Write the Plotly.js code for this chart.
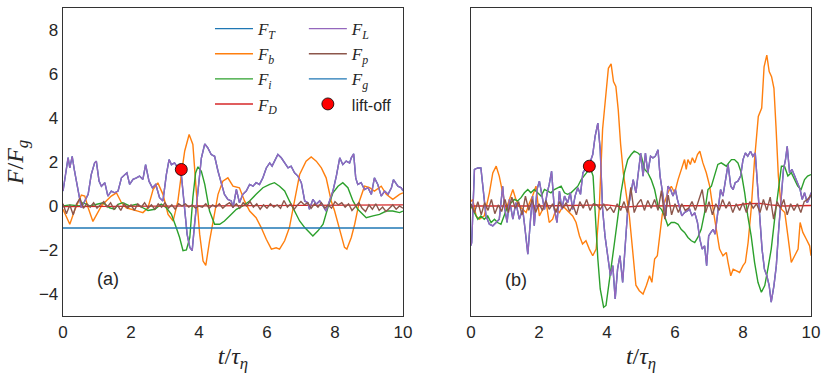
<!DOCTYPE html>
<html>
<head>
<meta charset="utf-8">
<script src="https://cdn.plot.ly/plotly-3.0.1.min.js"></script>
<style>
body{margin:0;background:#fff}
#chart{width:830px;height:377px}
</style>
</head>
<body>
<div id="chart"></div>
<script>

/* ---- panel (a) ---- */

const fbA_t = [0,0.1,0.2,0.34,0.54,0.64,0.74,0.88,0.98,1.13,
1.27,1.42,1.57,1.72,1.86,2.06,2.2,2.35,2.5,2.65,
2.79,2.94,3.09,3.24,3.38,3.48,3.58,3.71,3.82,3.92,
4.02,4.12,4.2,4.31,4.46,4.56,4.7,4.85,5.0,5.19,
5.34,5.49,5.68,5.83,5.98,6.13,6.27,6.37,6.52,6.66,
6.81,6.96,7.15,7.3,7.45,7.6,7.74,7.89,7.99,8.14,
8.28,8.35,8.48,8.58,8.72,8.87,9.02,9.16,9.36,9.51,
9.7,9.9,10]
const fbA = [-0.15,-0.5,-0.83,-0.2,0.5,0.45,-0.08,-0.7,-0.4,0,
0.23,0.45,0.6,0.15,-0.08,-0.15,-0.23,-0.3,-0.08,0.75,
1.05,0.53,-0.38,-0.68,0.23,1.43,2.5,3.25,2.8,0.68,
-1.28,-2.5,-2.7,-1.6,-0.38,0.53,1.13,1.28,0.9,0.83,
0.23,-0.23,-0.53,-0.98,-1.51,-1.96,-1.9,-1.96,-1.58,-0.98,
0.23,1.43,2.04,2.23,2.04,1.73,1.28,0.23,-0.23,-1.13,
-1.88,-1.96,-1.43,-0.83,0.23,0.9,0.83,0.68,0.9,0.53,
0.3,0.53,0.6]

const fiA_t = [0,0.2,0.49,0.59,0.78,0.98,1.18,1.37,1.52,1.62,
1.76,1.96,2.16,2.35,2.5,2.7,2.89,3.04,3.19,3.33,
3.43,3.53,3.63,3.73,3.82,3.9,3.97,4.07,4.17,4.31,
4.46,4.61,4.75,4.9,5.1,5.29,5.49,5.68,5.88,6.08,
6.22,6.37,6.52,6.66,6.81,6.96,7.11,7.25,7.35,7.5,
7.65,7.79,7.94,8.09,8.23,8.38,8.53,8.67,8.82,8.92,
9.12,9.31,9.51,9.7,9.9,10]
const fiA = [0,0.05,0,0.15,0,0.08,0.15,-0.08,-0.15,0.08,
0.15,0,0.08,-0.08,-0.2,-0.15,0.08,-0.08,-0.38,-0.98,
-1.43,-2.03,-2.0,-1.43,0.38,1.5,1.78,1.58,0.98,-0.23,
-0.83,-0.83,-0.68,-0.45,-0.15,0,0.23,0.53,0.83,0.98,
1.06,0.9,0.68,0.23,-0.23,-0.68,-0.98,-1.21,-1.36,-1.13,
-0.83,-0.08,0.6,0.9,1.06,0.83,0.23,-0.15,-0.38,-0.53,
-0.45,-0.38,-0.23,-0.23,-0.3,-0.23]

const fLA_t = [0,0.08,0.15,0.2,0.27,0.34,0.44,0.54,0.64,0.74,
0.83,0.93,0.98,1.06,1.13,1.23,1.32,1.42,1.52,1.62,
1.72,1.81,1.88,1.96,2.06,2.16,2.25,2.35,2.43,2.53,
2.63,2.73,2.84,2.94,3.04,3.12,3.19,3.28,3.38,3.48,
3.56,3.65,3.73,3.8,3.87,3.97,4.07,4.17,4.26,4.36,
4.46,4.56,4.66,4.75,4.85,4.95,5.0,5.1,5.19,5.29,
5.39,5.49,5.59,5.68,5.78,5.88,5.98,6.08,6.15,6.22,
6.32,6.42,6.52,6.62,6.71,6.81,6.91,7.01,7.11,7.2,
7.25,7.35,7.45,7.55,7.65,7.74,7.84,7.94,8.04,8.14,
8.23,8.33,8.43,8.48,8.55,8.61,8.67,8.77,8.87,8.97,
9.07,9.16,9.26,9.36,9.46,9.56,9.66,9.72,9.85,9.95,
10]
const fLA = [0.68,1.43,2.2,1.73,2.26,1.58,0.83,-0.08,0.23,0.53,
1.43,1.96,2.04,1.13,0.9,1.06,0.45,0.68,0.6,0.68,
1.28,1.43,1.51,0.98,1.21,1.28,1.36,1.21,1.88,1.13,
0.83,0.98,0.38,0.23,1.43,2.11,1.88,1.96,1.73,1.43,
0.08,-1.28,-1.88,-2.03,-0.83,0.68,2.18,2.82,2.64,2.34,
2.26,1.58,0.98,0.53,0.3,0.23,-0.08,0.75,0.15,0.53,
0.68,0.98,0.9,1.06,0.98,1.28,1.73,1.96,1.81,2.04,
2.34,2.19,1.96,1.73,1.81,1.51,1.36,1.06,0.23,0.15,
-0.15,0.3,0.08,0.23,0,-0.23,0.23,0.68,1.36,2.19,
1.88,2.04,1.96,2.19,2.37,1.28,0.98,1.06,0.75,0.83,
0.53,1.28,0.98,0.45,0.68,0.53,0.83,1.2,0.9,0.83,
0.68]

// F_T sits right under F_L in the picture
const fTA = fLA.slice()

const fdA_t = [0,2,4,6,8,10]
const fdA = [-0.03,-0.02,0,0.02,0.04,0.05]

const fgA_t = [0,10]
const fgA = [-1,-1]

// F_p on a 0.1 grid
const fpA = [0.1,-0.35,0.05,-0.4,0.1,0.35,-0.1,0.1,-0.05,0.15,
-0.1,0.05,0.2,-0.05,0.15,-0.15,0.05,-0.2,0.1,-0.1,
0.05,-0.2,0.1,-0.05,0.15,-0.1,0.05,-0.15,0.1,-0.05,
0.15,-0.1,0.05,-0.15,0.1,0,0.1,-0.05,0.05,-0.1,
0,-0.05,0.1,-0.1,0.05,-0.05,0.1,-0.1,0.05,0.15,
-0.05,0.1,-0.1,0.15,0,0.2,-0.05,0.1,-0.15,0.05,
-0.1,0.1,-0.05,0.05,-0.1,0.25,-0.05,0.1,-0.15,0.05,
0.2,0.05,0.15,-0.1,0.1,-0.05,0.15,-0.1,0.05,-0.1,
0.2,0.05,0.15,-0.05,0.1,-0.2,0,0.15,-0.1,-0.25,
0.05,-0.15,0.1,-0.2,-0.05,-0.25,-0.1,0.05,-0.15,0,
-0.1]

/* ---- panel (b) ---- */

const fbB_t = [0,0.05,0.15,0.25,0.39,0.54,0.64,0.74,0.83,0.93,
1.03,1.13,1.23,1.32,1.42,1.52,1.62,1.72,1.81,1.91,
2.01,2.11,2.21,2.3,2.4,2.5,2.6,2.7,2.79,2.89,
2.99,3.09,3.19,3.28,3.38,3.48,3.58,3.68,3.77,3.87,
3.99,4.04,4.12,4.19,4.26,4.33,4.4,4.48,4.56,4.66,
4.75,4.85,4.95,5.06,5.16,5.25,5.32,5.4,5.48,5.55,
5.62,5.69,5.79,5.89,5.99,6.09,6.18,6.28,6.33,6.38,
6.45,6.51,6.58,6.66,6.73,6.82,6.92,7.02,7.12,7.21,
7.31,7.41,7.51,7.56,7.64,7.71,7.8,7.9,8.0,8.07,
8.15,8.24,8.34,8.41,8.45,8.55,8.62,8.7,8.77,8.84,
8.91,8.97,9.04,9.13,9.23,9.32,9.42,9.52,9.62,9.68,
9.76,9.86,9.96,10]
const fbB = [0.2,0.3,-0.45,-0.6,-0.45,0.6,1.5,1.81,1.36,0.6,
-0.15,0.3,0.75,0.3,0,-0.15,-0.3,0.15,0.45,0.9,
-0.45,-0.15,0.15,-0.75,-0.6,-0.15,-0.3,0,-0.15,-0.3,
-0.45,-0.75,-1.36,-1.73,-1.58,-1.96,-2.26,-1.96,-0.15,3.5,
5.73,6.26,6.46,5.66,5.43,4.37,2.8,1.5,0.6,-0.5,
-1.96,-3.6,-3.85,-4.0,-3.6,-3.17,-3.47,-2.41,-2.26,-1.36,
-0.45,0.15,0.6,0.9,0.6,1.2,1.66,2.11,1.66,2.11,
1.89,2.19,1.96,2.34,2.49,1.96,1.51,0.9,-0.15,-1.06,
-1.96,-2.26,-2.11,-2.56,-3.17,-2.87,-2.94,-3.02,-2.71,-2.56,
-1.66,-0.15,2.11,3.47,4.07,4.45,6.33,6.86,6.11,5.88,
5.35,3.62,1.36,-0.15,-0.3,-1.36,-2.56,-2.26,-1.96,-0.75,
-1.2,-1.5,-1.81,-2.26]

const fiB_t = [0,0.1,0.2,0.29,0.39,0.49,0.59,0.69,0.78,0.88,
0.98,1.08,1.18,1.27,1.37,1.47,1.57,1.67,1.76,1.86,
1.96,2.06,2.16,2.25,2.35,2.45,2.55,2.65,2.75,2.84,
2.94,3.04,3.14,3.24,3.33,3.43,3.51,3.59,3.65,3.73,
3.8,3.9,3.97,4.04,4.12,4.22,4.31,4.41,4.51,4.61,
4.71,4.8,4.91,5.01,5.11,5.2,5.3,5.4,5.5,5.6,
5.69,5.79,5.89,5.99,6.09,6.18,6.28,6.38,6.48,6.58,
6.67,6.77,6.87,6.97,7.07,7.16,7.26,7.36,7.44,7.51,
7.58,7.66,7.75,7.85,7.95,8.05,8.14,8.24,8.34,8.44,
8.54,8.64,8.73,8.83,8.93,9.03,9.13,9.22,9.32,9.42,
9.52,9.61,9.71,9.81,9.9,10]
const fiB = [0,-0.3,-0.6,-0.45,-0.6,-0.45,-0.75,-0.6,-0.75,-0.83,
-0.45,0,0.15,0.3,0.23,0.38,0.6,0.75,0.6,0.75,
0.6,0.45,0.75,0.68,0.6,0.75,0.83,0.9,0.6,0.53,
0.6,0.75,0.9,1.2,1.36,1.58,1.73,1.36,-0.3,-2.41,
-3.77,-4.6,-4.52,-3.77,-2.71,-1.66,-0.6,0.6,1.51,2.11,
2.34,2.49,2.41,2.26,1.66,1.51,1.2,0.75,0,-0.15,
-0.45,-0.9,-0.75,-0.75,-0.83,-1.06,-1.2,-1.43,-1.58,-1.66,
-1.43,-1.06,-0.3,0.75,0.9,1.36,1.89,1.96,1.89,1.81,
1.96,2.11,2.11,1.96,1.51,0.6,-0.45,-1.36,-2.56,-3.47,
-3.92,-3.62,-2.87,-1.96,-0.6,0.75,1.81,1.81,1.36,1.51,
1.2,0.9,0.75,1.2,1.36,1.43]

const fLB_t = [0,0.02,0.1,0.2,0.29,0.37,0.44,0.54,0.64,0.74,
0.83,0.93,0.98,1.06,1.13,1.23,1.32,1.42,1.52,1.59,
1.67,1.75,1.81,1.86,1.94,2.01,2.08,2.16,2.24,2.3,
2.37,2.45,2.53,2.6,2.67,2.75,2.84,2.92,2.99,3.06,
3.14,3.22,3.29,3.38,3.48,3.58,3.65,3.73,3.8,3.87,
3.94,4.02,4.1,4.17,4.24,4.31,4.38,4.46,4.53,4.61,
4.69,4.77,4.85,4.91,4.99,5.06,5.13,5.2,5.28,5.35,
5.42,5.5,5.56,5.62,5.67,5.73,5.79,5.87,5.94,6.01,
6.07,6.13,6.2,6.28,6.36,6.43,6.5,6.58,6.66,6.73,
6.8,6.87,6.93,6.99,7.05,7.12,7.18,7.26,7.34,7.41,
7.48,7.56,7.64,7.71,7.77,7.85,7.93,8.0,8.07,8.14,
8.22,8.29,8.36,8.42,8.49,8.56,8.63,8.7,8.77,8.83,
8.91,8.98,9.05,9.13,9.19,9.25,9.3,9.37,9.44,9.52,
9.6,9.68,9.74,9.81,9.89,9.96,10]
const fLB = [-1.8,-1.66,1.66,1.73,1.73,0.45,-0.45,-0.83,-0.9,-0.75,
-0.6,0.9,0,-0.75,0.3,-0.6,0.15,-0.6,-0.15,-1.06,
-2.19,-0.6,0.45,-0.9,0.75,1.13,0.45,-0.15,0.6,0.98,
1.58,-0.15,-0.75,0.68,-0.15,0.45,0.15,0.6,-0.15,0.45,
0.83,0.53,1.51,1.73,1.89,2.34,3.17,3.77,2.56,-0.15,
-1.36,-2.26,-3.17,-2.71,-4.22,-2.87,-2.26,-3.47,-1.66,-0.15,
0.45,1.2,0.6,1.51,2.41,1.36,2.41,1.51,2.26,2.19,
2.26,2.56,1.36,0.75,0.15,-0.45,0.9,0.75,0.45,0.75,
0.3,0,-0.45,-0.3,-0.23,-0.15,-0.45,-0.3,-0.75,-1.51,
-1.96,-1.81,-2.71,-1.36,-1.21,-1.06,-1.28,-0.3,0.75,0.45,
1.2,1.89,0.9,0.75,1.06,1.13,1.36,2.11,2.41,2.26,
2.49,2.26,2.41,1.21,-0.15,-1.96,-2.87,-3.17,-3.62,-4.37,
-3.62,-2.71,-1.06,0.6,1.66,2.11,2.71,1.51,1.66,1.36,
1.06,0.75,0.3,0.6,0.15,0.38,0.6]

const fTB = fLB.slice()

const fdB_t = [0,2,4,4.5,5,6,7,7.8,8.1,8.5,8.8,9.2,10]
const fdB = [0,0,0.05,-0.05,0,0,0,0.02,0.1,0.12,0.05,0,0.02]

const fpB = [0.1,-0.3,0.2,-0.4,0.15,-0.2,0.3,-0.35,0.05,-0.25,
0.3,-0.3,0.4,-0.1,0.2,-0.4,0.45,-0.2,0.3,-0.3,
0.1,-0.2,0.25,-0.15,0.1,-0.3,0.2,-0.1,0.15,-0.25,
0.05,-0.4,0.2,-0.1,0.3,-0.2,0.1,0.05,-0.15,0.1,
-0.2,-0.05,-0.3,0.1,-0.2,0.2,-0.3,0.85,-0.3,0.1,
0.3,-0.2,0.25,-0.1,0.3,-0.2,0.7,-0.6,0.5,-0.4,
0.1,-0.3,0.1,-0.2,-0.1,0.2,-0.2,0.3,0.75,-0.3,
0.2,-0.4,0.1,-0.2,0.3,-0.1,0.2,-0.3,0.1,-0.2,
0.15,-0.3,0.2,-0.1,0.1,-0.3,0.3,-0.2,0.4,-0.6,
0.2,-0.1,0.3,-0.4,0.1,-0.2,0.1,-0.3,0.2,0.3,
0.5]

/* lift-off points, one per panel */
const liftT = [3.48,3.48]
const liftF = [1.66,1.81]

const xTicks = [0,2,4,6,8,10]
const yTicks = [-4,-2,0,2,4,6,8]

const colors = {
T:"#1f77b4", b:"#ff7f0e", i:"#2ca02c", D:"#d62728",
L:"#9467bd", p:"#8c564b", g:"#1f77b4"
}

window.onload = function(){

// F_p samples every 0.1
const tGrid = fpA.map((v,k)=>k/10)

function sub(s){
return "<i>F</i><sub><i>"+s+"</i></sub>"
}

function line(x,y,c,name,xa,ya,show,leg){
return {
x:x, y:y, type:"scatter", mode:"lines",
line:{color:c,width:1.4},
name:name, showlegend:show, legend:leg,
xaxis:xa, yaxis:ya, hoverinfo:"skip"
}
}

const liftMarker = {color:"#ff0000",size:12,line:{color:"#000",width:0.8}}

const traces = [

line(fLA_t,fTA,colors.T,sub("T"),"x","y",true,"legend"),
line(fbA_t,fbA,colors.b,sub("b"),"x","y",true,"legend"),
line(fiA_t,fiA,colors.i,sub("i"),"x","y",true,"legend"),
line(fdA_t,fdA,colors.D,sub("D"),"x","y",true,"legend"),
line(fLA_t,fLA,colors.L,sub("L"),"x","y",true,"legend2"),
line(tGrid,fpA,colors.p,sub("p"),"x","y",true,"legend2"),
line(fgA_t,fgA,colors.g,sub("g"),"x","y",true,"legend2"),

line(fLB_t,fTB,colors.T,"","x2","y2",false),
line(fbB_t,fbB,colors.b,"","x2","y2",false),
line(fiB_t,fiB,colors.i,"","x2","y2",false),
line(fdB_t,fdB,colors.D,"","x2","y2",false),
line(fLB_t,fLB,colors.L,"","x2","y2",false),
line(tGrid,fpB,colors.p,"","x2","y2",false),

{
x:[liftT[0]], y:[liftF[0]], type:"scatter", mode:"markers",
marker:liftMarker,
name:'<span style="font-family:Liberation Sans;font-style:normal;font-size:16px">lift-off</span>',
legend:"legend2", xaxis:"x", yaxis:"y", hoverinfo:"skip"
},
{
x:[liftT[1]], y:[liftF[1]], type:"scatter", mode:"markers",
marker:liftMarker,
showlegend:false, xaxis:"x2", yaxis:"y2", hoverinfo:"skip"
}

]

const axisBase = {
range:[0,10], tickvals:xTicks,
showgrid:false, zeroline:false,
showline:true, mirror:true, linecolor:"#333", linewidth:1.3,
ticks:"", ticklen:0,
tickfont:{family:"Liberation Sans, Arial, sans-serif",size:17,color:"#262626"}
}

const xTitle = {
text:"<i>t</i>/<i>τ</i><sub><i>η</i></sub>",
font:{family:"Liberation Serif, serif",size:24,color:"#262626"},
standoff:6
}

const legendBase = {
xanchor:"left", yanchor:"top",
bgcolor:"rgba(0,0,0,0)", borderwidth:0,
font:{family:"Liberation Serif, serif",size:17,color:"#262626"},
tracegroupgap:0, itemwidth:38
}

const layout = {
width:830, height:377,
margin:{l:63,r:19,t:8,b:61},
paper_bgcolor:"#fff", plot_bgcolor:"#fff",
showlegend:true,

xaxis:Object.assign({},axisBase,{domain:[0,0.4545],anchor:"y",title:xTitle}),
xaxis2:Object.assign({},axisBase,{domain:[0.5455,1],anchor:"y2",title:xTitle}),

yaxis:Object.assign({},axisBase,{range:[-5,9],tickvals:yTicks,anchor:"x",
title:{text:"<i>F</i>/<i>F</i><sub><i>g</i></sub>",
font:{family:"Liberation Serif, serif",size:24,color:"#262626"},standoff:8}}),
yaxis2:Object.assign({},axisBase,{range:[-5,9],tickvals:yTicks,anchor:"x2",showticklabels:false}),

legend:Object.assign({},legendBase,{x:0.1965,y:0.99}),
legend2:Object.assign({},legendBase,{x:0.322,y:0.99}),

annotations:[
{text:"(a)",x:1.31,y:-3.3,xref:"x",yref:"y",showarrow:false,
font:{family:"Liberation Sans, Arial, sans-serif",size:18,color:"#262626"}},
{text:"(b)",x:1.32,y:-3.35,xref:"x2",yref:"y2",showarrow:false,
font:{family:"Liberation Sans, Arial, sans-serif",size:18,color:"#262626"}}
]
}

Plotly.newPlot("chart",traces,layout,{staticPlot:true,displayModeBar:false})

}

</script>
</body>
</html>
